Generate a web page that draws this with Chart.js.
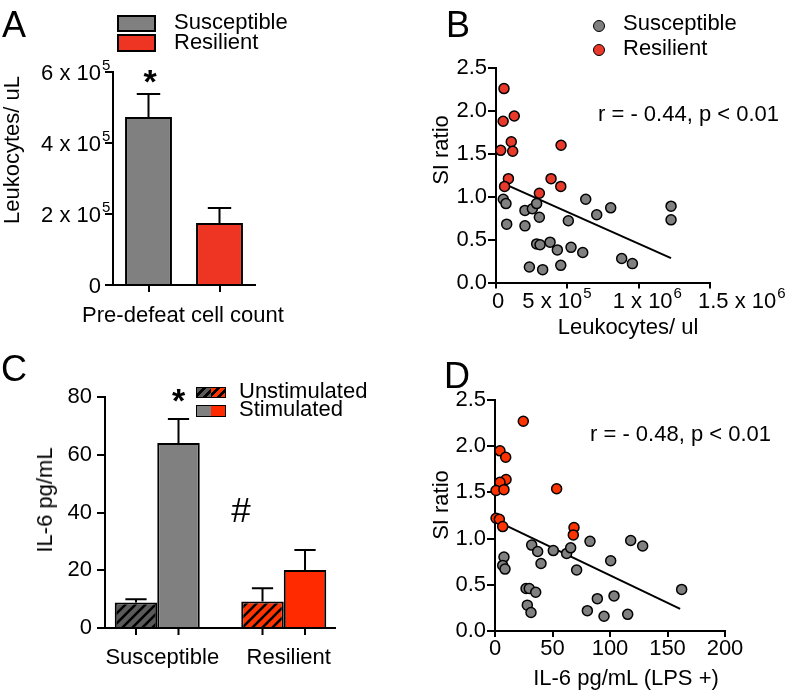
<!DOCTYPE html>
<html><head><meta charset="utf-8">
<script src="https://cdn.jsdelivr.net/npm/chart.js@4.4.0/dist/chart.umd.min.js"></script>
<style>
html,body{margin:0;padding:0;background:#fff;}
#wrap{position:relative;width:796px;height:695px;overflow:hidden;font-family:"Liberation Sans",Arial,Helvetica,sans-serif;color:#000;}
#wrap canvas{position:absolute;left:0;top:0;}
.t{position:absolute;white-space:nowrap;line-height:1;font-size:22px;}
.box{position:absolute;box-sizing:border-box;border:2px solid #000;}
.dot{position:absolute;box-sizing:border-box;border:1.5px solid #000;border-radius:50%;width:12px;height:12px;}
</style></head><body><div id="wrap">
<canvas id="cA" width="796" height="695"></canvas>
<canvas id="cB" width="796" height="695"></canvas>
<canvas id="cC" width="796" height="695"></canvas>
<canvas id="cD" width="796" height="695"></canvas>
</div>
<script>
// ---------- data ----------
const groups = ['Susceptible', 'Resilient'];

// Panel A: pre-defeat leukocyte count
const countMean = [4.73e5, 1.75e5];
const countSem = [0.65e5, 0.42e5];
const countTicks = [0, 2e5, 4e5, 6e5];
const countTickMant = ['0', '2 x 10', '4 x 10', '6 x 10'];
const countTickExp = ['', '5', '5', '5'];

// Panel B: SI ratio vs leukocytes
const leukSusX = [0.51e5, 0.70e5, 0.75e5, 2.03e5, 2.55e5, 2.85e5, 3.04e5, 2.03e5, 6.29e5, 7.06e5, 8.04e5, 5.07e5, 12.27e5, 12.27e5, 2.85e5, 3.09e5, 3.79e5, 4.30e5, 5.26e5, 6.08e5, 2.34e5, 3.27e5, 4.54e5, 8.81e5, 9.56e5];
const leukSusY = [0.97, 0.92, 0.68, 0.84, 0.86, 0.92, 0.76, 0.66, 0.97, 0.79, 0.87, 0.72, 0.89, 0.73, 0.45, 0.44, 0.47, 0.38, 0.41, 0.35, 0.18, 0.15, 0.20, 0.28, 0.22];
const leukResX = [0.56e5, 0.50e5, 1.28e5, 1.07e5, 0.33e5, 1.17e5, 4.56e5, 0.87e5, 0.60e5, 3.86e5, 4.54e5, 3.04e5];
const leukResY = [2.26, 1.88, 1.94, 1.64, 1.54, 1.53, 1.60, 1.21, 1.12, 1.21, 1.12, 1.04];
const leukFitX = [0.5e5, 12.27e5];
const leukFitY = [1.156, 0.285];
const leukTicks = [0, 5e5, 10e5, 15e5];
const leukTickMant = ['0', '5 x 10', '1 x 10', '1.5 x 10'];
const leukTickExp = ['', '5', '6', '6'];
const siTicks = [0, 0.5, 1.0, 1.5, 2.0, 2.5];

// Panel C: IL-6
const il6Unstim = [8.8, 9.2];
const il6UnstimSem = [1.2, 4.6];
const il6Stim = [64.1, 20.1];
const il6StimSem = [8.3, 6.9];
const il6Ticks = [0, 20, 40, 60, 80];

// Panel D: SI ratio vs IL-6 (LPS+)
const lpsSusX = [7.8, 6.7, 8.7, 31.9, 37.1, 40, 50.7, 62.3, 65.8, 71, 82.6, 100.6, 118, 128.4, 162.3, 27, 29.8, 35.4, 28.1, 31.3, 80.3, 89, 103.5, 94.8, 115.4];
const lpsSusY = [0.80, 0.71, 0.67, 0.93, 0.86, 0.73, 0.87, 0.84, 0.90, 0.66, 0.97, 0.76, 0.98, 0.92, 0.45, 0.46, 0.46, 0.42, 0.28, 0.20, 0.22, 0.35, 0.38, 0.16, 0.18];
const lpsResX = [24.6, 4.3, 9.3, 9.6, 4.3, 0.9, 7.8, 53.6, 0.9, 3.8, 6.7, 68.7, 68.1];
const lpsResY = [2.27, 1.95, 1.88, 1.64, 1.61, 1.52, 1.53, 1.54, 1.22, 1.21, 1.13, 1.12, 1.04];
const lpsFitX = [1.5, 161];
const lpsFitY = [1.19, 0.24];
const lpsTicks = [0, 50, 100, 150, 200];

// ---------- styles ----------
const GRAY = '#808080', RED_A = '#ee3524', RED_B = '#e8392a', RED_C = '#ff2a00', RED_D = '#ff3300';
const HATCH_GRAY = '#5a5a5a', HATCH_RED = '#ff3300';
const FONT = '"Liberation Sans", Arial, Helvetica, sans-serif';
// left-edge nudges of the B x tick labels relative to their ticks (layout only)
const leukLabelNudge = [-4, -45, -26, -12];

Chart.defaults.font.family = FONT;
Chart.defaults.font.size = 22;
Chart.defaults.color = '#000';
Chart.defaults.animation = false;
Chart.defaults.plugins.legend.display = false;
Chart.defaults.plugins.tooltip.enabled = false;

const pts = (xs, ys) => xs.map((x, i) => ({x, y: ys[i]}));

function yAxis(min, max, step, cb, pad, width) {
  return {
    type: 'linear', min, max,
    ticks: {stepSize: step, padding: pad, font: {size: 22, lineHeight: 1}, callback: cb},
    border: {display: true, color: '#000', width: 2},
    grid: {drawOnChartArea: false, color: '#000', lineWidth: 2, tickLength: 8},
    afterFit: s => { s.width = width; }
  };
}
function xLinear(min, max, step, cb) {
  return {
    type: 'linear', min, max,
    ticks: {stepSize: step, padding: 1, autoSkip: false, maxRotation: 0, minRotation: 0, font: {size: 22, lineHeight: 1}, callback: cb},
    border: {display: true, color: '#000', width: 2},
    grid: {drawOnChartArea: false, color: '#000', lineWidth: 2, tickLength: 6},
    afterFit: s => { s.height = 40; }
  };
}

// scientific tick labels (mantissa x 10 with raised exponent), placed through the scale
const sciLabels = {
  id: 'sciLabels',
  afterDraw(chart, args, o) {
    if (!o || !o.values) return;
    const sc = chart.scales[o.axis], ctx = chart.ctx;
    ctx.save();
    ctx.fillStyle = '#000'; ctx.textAlign = 'left'; ctx.textBaseline = 'alphabetic';
    o.values.forEach((v, i) => {
      const p = sc.getPixelForValue(v);
      const m = o.mant[i], e = o.exp[i];
      ctx.font = '22px ' + FONT;
      const wm = ctx.measureText(m).width;
      let x, y;
      if (o.axis === 'y') { x = sc.right - o.gap - wm; y = p + 8; }
      else { x = p + o.nudge[i]; y = sc.top + o.gap; }
      ctx.fillText(m, x, y);
      if (e) { ctx.font = o.supSize + 'px ' + FONT; ctx.fillText(e, x + wm + 1, y - o.raise); }
    });
    ctx.restore();
  }
};

const errorBars = {
  id: 'errorBars',
  afterDatasetsDraw(chart) {
    const ctx = chart.ctx, ys = chart.scales.y;
    chart.data.datasets.forEach((ds, di) => {
      if (!ds.errors) return;
      chart.getDatasetMeta(di).data.forEach((el, i) => {
        const raw = ds.data[i];
        const val = (raw && typeof raw === 'object') ? raw.y : raw;
        const top = ys.getPixelForValue(val + ds.errors[i]);
        const half = el.width / 4;
        ctx.save();
        ctx.strokeStyle = '#000'; ctx.lineWidth = 2;
        ctx.beginPath();
        ctx.moveTo(el.x, el.y); ctx.lineTo(el.x, top);
        ctx.moveTo(el.x - half, top); ctx.lineTo(el.x + half, top);
        ctx.stroke();
        ctx.restore();
      });
    });
  }
};

const barTicks = {
  id: 'barTicks',
  afterDraw(chart) {
    const ctx = chart.ctx, b = chart.chartArea.bottom;
    ctx.save(); ctx.strokeStyle = '#000'; ctx.lineWidth = 2; ctx.beginPath();
    chart.data.datasets.forEach((ds, di) => {
      chart.getDatasetMeta(di).data.forEach(el => { ctx.moveTo(el.x, b); ctx.lineTo(el.x, b + 7); });
    });
    ctx.stroke(); ctx.restore();
  }
};

// ---------- Panel A ----------
const yA = yAxis(0, 6e5, 2e5, undefined, 2, 100);
yA.ticks.display = false;
new Chart(document.getElementById('cA'), {
  type: 'bar',
  data: {
    labels: groups,
    datasets: [{
      label: 'Pre-defeat cell count',
      data: countMean, errors: countSem,
      backgroundColor: [GRAY, RED_A], borderColor: '#000', borderWidth: 2,
      categoryPercentage: 0.66, barPercentage: 1
    }]
  },
  options: {
    responsive: false, devicePixelRatio: 1,
    layout: {padding: {left: 13, top: 72, right: 541, bottom: 370}},
    scales: {
      x: {
        type: 'category', offset: true,
        ticks: {display: false},
        border: {display: true, color: '#000', width: 2},
        grid: {offset: false, drawOnChartArea: false, color: '#000', lineWidth: 2, tickLength: 7},
        afterFit: s => { s.height = 40; }
      },
      y: yA
    },
    plugins: {sciLabels: {axis: 'y', values: countTicks, mant: countTickMant, exp: countTickExp, gap: 12, supSize: 15, raise: 10}}
  },
  plugins: [errorBars, sciLabels]
});

// ---------- Panel B ----------
const xB = xLinear(0, 15e5, 5e5, undefined);
xB.ticks.display = false;
new Chart(document.getElementById('cB'), {
  type: 'scatter',
  data: {
    datasets: [
      {label: 'Resilient', data: pts(leukResX, leukResY), backgroundColor: RED_B, borderColor: '#000', borderWidth: 1.5, pointRadius: 5, clip: false},
      {label: 'Susceptible', data: pts(leukSusX, leukSusY), backgroundColor: GRAY, borderColor: '#000', borderWidth: 1.5, pointRadius: 5, clip: false},
      {label: 'fit', data: pts(leukFitX, leukFitY), showLine: true, pointRadius: 0, borderColor: '#000', borderWidth: 2, clip: false}
    ]
  },
  options: {
    responsive: false, devicePixelRatio: 1,
    layout: {padding: {left: 436, top: 68, right: 86, bottom: 372.5}},
    scales: {
      x: xB,
      y: yAxis(0, 2.5, 0.5, v => v.toFixed(1), 1, 60)
    },
    plugins: {sciLabels: {axis: 'x', values: leukTicks, mant: leukTickMant, exp: leukTickExp, nudge: leukLabelNudge, gap: 25, supSize: 15, raise: 10}}
  },
  plugins: [sciLabels]
});

// ---------- Panel C ----------
const ctxC = document.getElementById('cC').getContext('2d');
function hatch(base) {
  const c = document.createElement('canvas'); c.width = 10; c.height = 10;
  const g = c.getContext('2d');
  g.fillStyle = base; g.fillRect(0, 0, 10, 10);
  g.strokeStyle = '#000'; g.lineWidth = 2.6; g.beginPath();
  g.moveTo(-2, 12); g.lineTo(12, -2);
  g.moveTo(-2, 2); g.lineTo(2, -2);
  g.moveTo(8, 12); g.lineTo(12, 8);
  g.stroke();
  return ctxC.createPattern(c, 'repeat');
}
new Chart(ctxC, {
  type: 'bar',
  data: {
    datasets: [
      {label: 'Unstimulated', data: il6Unstim.map((v, i) => ({x: i, y: v})), errors: il6UnstimSem,
       backgroundColor: [hatch(HATCH_GRAY), hatch(HATCH_RED)], borderColor: '#000', borderWidth: 2,
       categoryPercentage: 0.672, barPercentage: 1},
      {label: 'Stimulated', data: il6Stim.map((v, i) => ({x: i, y: v})), errors: il6StimSem,
       backgroundColor: [GRAY, RED_C], borderColor: '#000', borderWidth: 2,
       categoryPercentage: 0.672, barPercentage: 1}
    ]
  },
  options: {
    responsive: false, devicePixelRatio: 1,
    layout: {padding: {left: 35, top: 397, right: 461, bottom: 27}},
    scales: {
      x: {
        type: 'linear', min: -0.413, max: 1.405, offset: false,
        afterBuildTicks: s => { s.ticks = groups.map((g, i) => ({value: i})); },
        ticks: {padding: 19, labelOffset: 5, autoSkip: false, maxRotation: 0, font: {size: 22, lineHeight: 1},
                callback: v => groups[v] ?? ''},
        border: {display: true, color: '#000', width: 2},
        grid: {display: false, drawTicks: false, offset: false},
        afterFit: s => { s.height = 40; }
      },
      y: yAxis(0, 80, 20, v => String(v), 5, 70)
    }
  },
  plugins: [errorBars, barTicks]
});

// ---------- Panel D ----------
new Chart(document.getElementById('cD'), {
  type: 'scatter',
  data: {
    datasets: [
      {label: 'Resilient', data: pts(lpsResX, lpsResY), backgroundColor: RED_D, borderColor: '#000', borderWidth: 1.5, pointRadius: 5, clip: false},
      {label: 'Susceptible', data: pts(lpsSusX, lpsSusY), backgroundColor: GRAY, borderColor: '#000', borderWidth: 1.5, pointRadius: 5, clip: false},
      {label: 'fit', data: pts(lpsFitX, lpsFitY), showLine: true, pointRadius: 0, borderColor: '#000', borderWidth: 2, clip: false}
    ]
  },
  options: {
    responsive: false, devicePixelRatio: 1,
    layout: {padding: {left: 435, top: 400, right: 71, bottom: 24}},
    scales: {
      x: xLinear(0, 200, 50, v => String(v)),
      y: yAxis(0, 2.5, 0.5, v => v.toFixed(1), 1, 60)
    }
  }
});

// ---------- text & legends ----------
const wrap = document.getElementById('wrap');
function txt(s, x, base, o = {}) {
  const size = o.size || 22;
  const d = document.createElement('div'); d.className = 't'; d.textContent = s;
  d.style.fontSize = size + 'px';
  if (o.weight) d.style.fontWeight = o.weight;
  d.style.top = (base - 0.8465 * size) + 'px';
  d.style.left = x + 'px';
  if (o.align === 'center') d.style.transform = 'translateX(-50%)';
  wrap.appendChild(d);
}
function vtxt(s, cx, cy, size = 22) {
  const d = document.createElement('div'); d.className = 't'; d.textContent = s;
  d.style.fontSize = size + 'px';
  d.style.left = cx + 'px'; d.style.top = cy + 'px';
  d.style.transform = 'translate(-50%,-50%) rotate(-90deg)';
  wrap.appendChild(d);
}
function box(x, y, w, h, bg) {
  const d = document.createElement('div'); d.className = 'box';
  Object.assign(d.style, {left: x + 'px', top: y + 'px', width: w + 'px', height: h + 'px', background: bg});
  wrap.appendChild(d); return d;
}
function dot(cx, cy, bg) {
  const d = document.createElement('div'); d.className = 'dot';
  Object.assign(d.style, {left: (cx - 6) + 'px', top: (cy - 6) + 'px', background: bg});
  wrap.appendChild(d);
}

// panel letters
txt('A', 2, 37, {size: 36});
txt('B', 446, 37, {size: 36});
txt('C', 1, 381, {size: 36});
txt('D', 444, 388, {size: 36});

// Panel A
box(117, 15, 39, 17, GRAY);
box(117, 34, 39, 18, RED_A);
txt('Susceptible', 174, 29.5);
txt('Resilient', 174, 49.5);
txt('*', 150, 92.8, {size: 34, weight: 'bold', align: 'center'});
vtxt('Leukocytes/ uL', 12, 149.5);
txt('Pre-defeat cell count', 183, 323, {align: 'center'});

// Panel B
dot(599, 26, GRAY);
dot(599, 50, RED_B);
txt('Susceptible', 623, 31);
txt('Resilient', 623, 55.5);
txt('r = - 0.44, p < 0.01', 598, 122);
vtxt('SI ratio', 441, 150);
txt('Leukocytes/ ul', 628, 335, {align: 'center'});

// Panel C
const hg = (c) => 'repeating-linear-gradient(135deg,' + c + ' 0 4px,#000 4px 6.5px)';
const lb1 = box(196, 387, 30, 11, 'transparent'); lb1.style.borderWidth = '1.5px';
lb1.style.background = hg(HATCH_GRAY) + ' left/50% 100% no-repeat,' + hg(HATCH_RED) + ' right/50% 100% no-repeat';
const lb2 = box(196, 405, 30, 12, 'transparent'); lb2.style.borderWidth = '1.5px';
lb2.style.background = 'linear-gradient(90deg,' + GRAY + ' 50%,' + RED_C + ' 50%)';
txt('Unstimulated', 239, 398.5);
txt('Stimulated', 239, 417);
txt('*', 178.5, 411.8, {size: 34, weight: 'bold', align: 'center'});
txt('#', 241, 522, {size: 35, align: 'center'});
vtxt('IL-6 pg/mL', 45, 500);

// Panel D
txt('r = - 0.48, p < 0.01', 590, 442);
vtxt('SI ratio', 441, 505);
txt('IL-6 pg/mL (LPS +)', 626, 686, {align: 'center'});
</script>
</body></html>
